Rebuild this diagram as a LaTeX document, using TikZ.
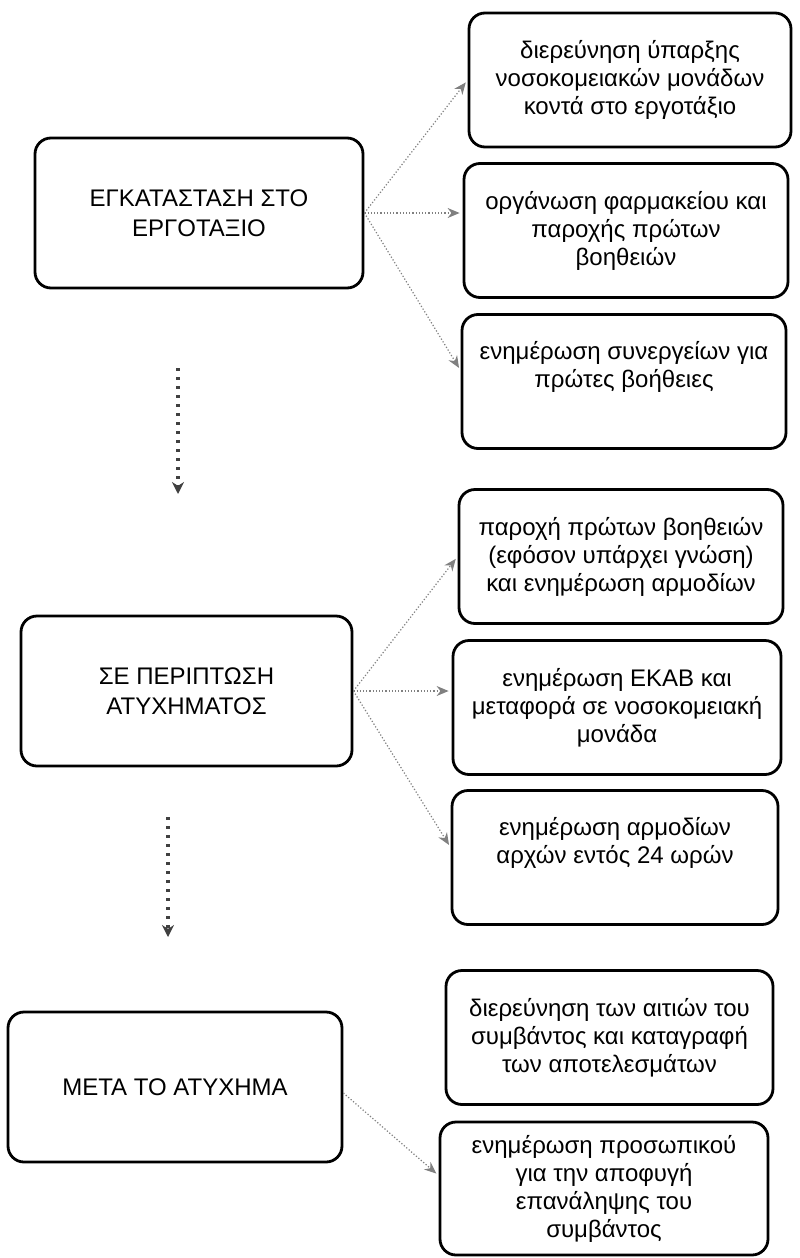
\documentclass[tikz,border=0pt]{standalone}
\usepackage{fontspec}
\setmainfont{Liberation Sans}
\usetikzlibrary{arrows.meta}
\begin{document}
\begin{tikzpicture}[x=0.5pt,y=-0.5pt,
 box/.style={draw=black, line width=1.4pt, rounded corners=8pt, align=center, inner sep=2pt, minimum width=162pt, minimum height=67pt, font=\fontsize{12}{14}\selectfont},
 mainbox/.style={box, minimum width=164pt, minimum height=75pt, font=\fontsize{12}{15}\selectfont},
 link/.style={draw=gray, line width=0.6pt, densely dotted, -{Stealth[length=6pt,width=5pt]}, shorten >=1.5pt},
 seq/.style={draw=black!75, line width=1.7pt, dash pattern=on 1.5pt off 3pt, -{Stealth[length=6pt,width=6pt]}}]
\useasboundingbox (0,0) rectangle (799,1258);
\fill[white] (0,0) rectangle (799,1258);

% left main boxes
\node[mainbox] (L1) at (199,213) {ΕΓΚΑΤΑΣΤΑΣΗ ΣΤΟ\\ΕΡΓΟΤΑΞΙΟ};
\node[mainbox, minimum width=165.5pt] (L2) at (186.5,691) {ΣΕ ΠΕΡΙΠΤΩΣΗ\\ΑΤΥΧΗΜΑΤΟΣ};
\node[mainbox, minimum width=167pt] (L3) at (175,1087) {ΜΕΤΑ ΤΟ ΑΤΥΧΗΜΑ};

% right boxes
\node[box, minimum width=161pt] (R1) at (630,80) {διερεύνηση ύπαρξης\\νοσοκομειακών μονάδων\\κοντά στο εργοτάξιο};
\node[box] (R2) at (626,230.5) {οργάνωση φαρμακείου και\\παροχής πρώτων\\βοηθειών};
\node[box] (R3) at (624,381.5) {ενημέρωση συνεργείων για\\πρώτες βοήθειες\\[3pt]};
\node[box] (R4) at (621,556.5) {παροχή πρώτων βοηθειών\\(εφόσον υπάρχει γνώση)\\και ενημέρωση αρμοδίων};
\node[box, minimum width=164pt] (R5) at (617,707.5) {ενημέρωση ΕΚΑΒ και\\μεταφορά σε νοσοκομειακή\\μονάδα};
\node[box, minimum width=163pt] (R6) at (615,857.5) {ενημέρωση αρμοδίων\\αρχών εντός 24 ωρών\\[3pt]};
\node[box, minimum width=163.5pt] (R7) at (609.5,1037.5) {διερεύνηση των αιτιών του\\συμβάντος και καταγραφή\\των αποτελεσμάτων};
\node[box, minimum width=164pt, minimum height=66.5pt] (R8) at (604,1188.5) {ενημέρωση προσωπικού\\για την αποφυγή\\επανάληψης του\\συμβάντος};

% links
\draw[link] (L1.east) -- (R1.west);
\draw[link] (L1.east) -- (R2.west |- L1.east);
\draw[link] (L1.east) -- ([yshift=5.5pt]R3.west);
\draw[link] (L2.east) -- (R4.west);
\draw[link] (L2.east) -- (R5.west |- L2.east);
\draw[link] (L2.east) -- ([yshift=5pt]R6.west);
\draw[link] ([yshift=-3pt]L3.east) -- ([yshift=6.5pt]R8.west);

% sequence arrows
\coordinate (s1a) at (178,368);
\coordinate (s1b) at (178,494);
\coordinate (s2a) at (168,817);
\coordinate (s2b) at (168,937);
\draw[seq] (s1a) -- (s1b);
\draw[seq] (s2a) -- (s2b);
\end{tikzpicture}
\end{document}
